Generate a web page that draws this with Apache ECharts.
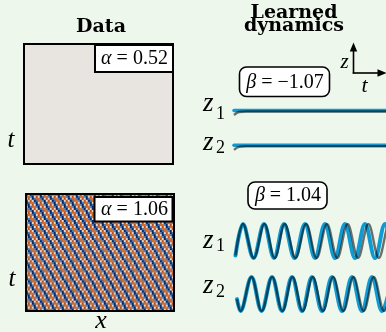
<!DOCTYPE html>
<html><head><meta charset="utf-8">
<script src="https://cdn.jsdelivr.net/npm/echarts@6/dist/echarts.min.js"></script>
<style>html,body{margin:0;padding:0;background:#eef7eb}#chart{width:386px;height:332px}</style>
</head><body><div id="chart"></div><script>
// ---- Data panels ----
// alpha = 0.52: the field has decayed to a flat zero level
const fieldALevel = 0.0;
// alpha = 1.06: travelling wave, one wavelength of the colour profile along x
const stripeProfile = [0.95, 0.7, 0.1, -0.55, -1.0, -1.0, -0.6, 0.1, 0.75];
const fieldBCols = 74;
const fieldBRows = 58;
const stripeStepX = 2;     // profile samples advanced per column
const stripeDriftT = 1.2;  // profile samples advanced per time row
const alphaLabels = ['0.52', '1.06'];
const betaLabels = ['\u22121.07', '1.04'];

// ---- Learned dynamics (t, z) ----
// beta = -1.07: both latent coordinates sit at rest
const flatZ1Learned = [[0, 0], [15.2, 0]];
const flatZ1True = [[0, -0.45], [0.5, -0.15], [1.2, -0.1], [15.2, -0.1]];
const flatZ2Learned = [[0, 0], [15.2, 0]];
const flatZ2True = [[0, -0.45], [0.5, -0.15], [1.2, -0.1], [15.2, -0.1]];
// beta = 1.04: sustained oscillation
const oscZ1Learned = [[0.15,-0.85],[0.9,1],[1.95,-1],[3.0,1],[4.0,-1],[5.0,1],[6.05,-1],[7.1,1],[8.1,-1],[9.1,1],[10.1,-1],[11.1,1],[12.1,-1],[13.1,1],[14.1,-1],[15.1,1],[16.1,-1]];
const oscZ1True = [[0.15,-0.85],[0.9,1],[1.98,-1],[3.04,1],[4.07,-1],[5.08,1],[6.15,-1],[7.22,1],[8.26,-1],[9.3,1],[10.33,-1],[11.36,1],[12.4,-1],[13.44,1],[14.48,-1],[15.52,1],[16.55,-1]];
const oscZ2Learned = [[0.3,-0.3],[0.65,-1],[1.75,1],[2.75,-1],[3.8,1],[4.8,-1],[5.8,1],[6.8,-1],[7.8,1],[8.8,-1],[9.8,1],[10.8,-1],[11.8,1],[12.8,-1],[13.8,1],[14.8,-1],[15.8,1]];
const oscZ2True = [[0.3,-0.3],[0.65,-1],[1.75,1],[2.77,-1],[3.82,1],[4.84,-1],[5.85,1],[6.87,-1],[7.88,1],[8.9,-1],[9.92,1],[10.94,-1],[11.95,1],[12.97,-1],[13.98,1],[15.0,-1],[16.0,1]];

// build heatmap cells
const cellsA = [[0, 0, fieldALevel]];
const cellsB = [];
const n = stripeProfile.length;
for (let j = 0; j < fieldBRows; j++) {
  for (let i = 0; i < fieldBCols; i++) {
    const k = ((Math.round(i * stripeStepX - j * stripeDriftT) % n) + n) % n;
    cellsB.push([i, j, stripeProfile[k]]);
  }
}
const colsB = Array.from({length: fieldBCols}, (_, i) => i);
const rowsB = Array.from({length: fieldBRows}, (_, j) => j);

const SERIF = '"Liberation Serif", "DejaVu Serif", serif';
const BOLD = '"DejaVu Serif", serif';
const BLUE = '#0f9ad3';
const TRUE_C = 'rgba(0,0,0,0.55)';

const grids = [
  {left: 24, top: 44, width: 149, height: 120},
  {left: 26, top: 194, width: 148, height: 117},
  {left: 234, top: 100.5, width: 152, height: 20},
  {left: 234, top: 135.3, width: 152, height: 20},
  {left: 234, top: 224, width: 152, height: 34},
  {left: 234, top: 277, width: 152, height: 34}
];
const xAxes = [
  {gridIndex: 0, type: 'category', data: [0], show: false},
  {gridIndex: 1, type: 'category', data: colsB, show: false}
];
const yAxes = [
  {gridIndex: 0, type: 'category', data: [0], show: false, inverse: true},
  {gridIndex: 1, type: 'category', data: rowsB, show: false, inverse: true}
];
for (let g = 2; g < 6; g++) {
  xAxes.push({gridIndex: g, type: 'value', min: 0, max: 15.2, show: false});
  yAxes.push({gridIndex: g, type: 'value', min: -1, max: 1, show: false});
}

function trace(idx, data, learned) {
  return {
    type: 'line', xAxisIndex: idx, yAxisIndex: idx, data: data,
    showSymbol: false, smooth: 0.36, animation: false, silent: true,
    z: learned ? 2 : 3,
    lineStyle: learned ? {color: BLUE, width: 4, cap: 'round'} : {color: TRUE_C, width: 2.4}
  };
}

const series = [
  {type: 'heatmap', xAxisIndex: 0, yAxisIndex: 0, data: cellsA, animation: false, silent: true},
  {type: 'heatmap', xAxisIndex: 1, yAxisIndex: 1, data: cellsB, animation: false, silent: true},
  trace(2, flatZ1Learned, true), trace(2, flatZ1True, false),
  trace(3, flatZ2Learned, true), trace(3, flatZ2True, false),
  trace(4, oscZ1Learned, true), trace(4, oscZ1True, false),
  trace(5, oscZ2Learned, true), trace(5, oscZ2True, false)
];
series[2].lineStyle.width = 3.5; series[4].lineStyle.width = 3.5;

function txt(text, x, y, font, align) {
  return {type: 'text', z: 100, silent: true,
    style: {text: text, x: x, y: y, font: font, fill: '#000', align: align || 'center', verticalAlign: 'middle'}};
}
function mathText(sym, rest, x, y) {
  return {type: 'text', z: 101, silent: true, style: {
    text: '{g|' + sym + '} = ' + rest, x: x, y: y, fill: '#000',
    font: '20px ' + SERIF, align: 'center', verticalAlign: 'middle',
    rich: {g: {fontStyle: 'italic', fontSize: 20, fontFamily: SERIF}}
  }};
}
const graphic = [
  // panel titles
  txt('Data', 101, 27.5, 'bold 19px ' + BOLD),
  txt('Learned', 294, 13, 'bold 19px ' + BOLD),
  txt('dynamics', 294, 26.5, 'bold 19px ' + BOLD),
  // heatmap frames
  {type: 'rect', z: 90, shape: {x: 24, y: 44, width: 149, height: 120}, style: {fill: 'none', stroke: '#000', lineWidth: 2}},
  {type: 'rect', z: 90, shape: {x: 26, y: 194, width: 148, height: 117}, style: {fill: 'none', stroke: '#000', lineWidth: 2}},
  // alpha tags
  {type: 'rect', z: 95, shape: {x: 95, y: 45, width: 78, height: 27}, style: {fill: '#fff', stroke: '#000', lineWidth: 2}},
  mathText('α', alphaLabels[0], 134.5, 59),
  {type: 'rect', z: 95, shape: {x: 94.5, y: 197, width: 78, height: 24.5}, style: {fill: '#fff', stroke: '#000', lineWidth: 2}},
  mathText('α', alphaLabels[1], 134.5, 210),
  // beta tags
  {type: 'rect', z: 95, shape: {x: 239.5, y: 67, width: 90, height: 29.5, r: 7}, style: {fill: '#fff', stroke: '#000', lineWidth: 1.6}},
  mathText('β', betaLabels[0], 285, 82.5),
  {type: 'rect', z: 95, shape: {x: 248, y: 182, width: 79, height: 27, r: 7}, style: {fill: '#fff', stroke: '#000', lineWidth: 1.6}},
  mathText('β', betaLabels[1], 288, 196),
  // axis labels of the data panels
  txt('t', 11, 140, 'italic 25px ' + SERIF),
  txt('t', 12, 279, 'italic 25px ' + SERIF),
  txt('x', 101, 321, 'italic 26px ' + SERIF),
  // latent coordinate labels
  txt('z', 203, 104, 'italic 27px ' + SERIF, 'left'),
  txt('1', 216, 114.5, '18px ' + SERIF, 'left'),
  txt('z', 203, 142.5, 'italic 27px ' + SERIF, 'left'),
  txt('2', 216, 148.5, '18px ' + SERIF, 'left'),
  txt('z', 203, 241, 'italic 27px ' + SERIF, 'left'),
  txt('1', 216, 246.5, '18px ' + SERIF, 'left'),
  txt('z', 203, 286, 'italic 27px ' + SERIF, 'left'),
  txt('2', 216, 292.5, '18px ' + SERIF, 'left'),
  // z-t axes glyph
  {type: 'line', z: 100, shape: {x1: 353.5, y1: 73.5, x2: 353.5, y2: 49}, style: {stroke: '#000', lineWidth: 1.6}},
  {type: 'polygon', z: 100, shape: {points: [[353.5, 42.5], [349.8, 51.5], [357.2, 51.5]]}, style: {fill: '#000'}},
  {type: 'line', z: 100, shape: {x1: 352.7, y1: 73, x2: 380, y2: 73}, style: {stroke: '#000', lineWidth: 1.6}},
  {type: 'polygon', z: 100, shape: {points: [[386.5, 73], [377.5, 69.3], [377.5, 76.7]]}, style: {fill: '#000'}},
  txt('z', 344.5, 62, 'italic 21px ' + SERIF),
  txt('t', 364.5, 86, 'italic 22px ' + SERIF)
];

const chart = echarts.init(document.getElementById('chart'), null, {renderer: 'canvas'});
chart.setOption({
  backgroundColor: '#eef7eb',
  animation: false,
  grid: grids,
  xAxis: xAxes,
  yAxis: yAxes,
  visualMap: {
    type: 'continuous', show: false, min: -1, max: 1, seriesIndex: [0, 1],
    inRange: {color: ['#0a2560', '#1d4c95', '#5f93c8', '#b5d0e6', '#e8e4e0', '#f0c6a2', '#e2935a', '#cf6a2c', '#a9481b']}
  },
  series: series,
  graphic: graphic
});
</script></body></html>
